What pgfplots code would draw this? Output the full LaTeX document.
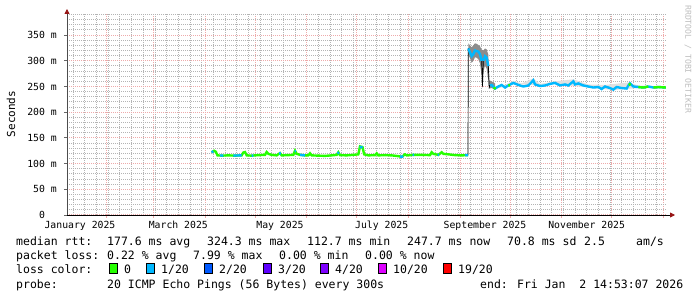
\documentclass[border=0pt]{standalone}
\usepackage{fontspec}
\usepackage{pgfplots}
\pgfplotsset{compat=1.18}
\usetikzlibrary{arrows.meta}
\newfontfamily\mono{DejaVu Sans Mono}
\newcommand\axisfont{\mono\fontsize{9.8}{11}\selectfont}
\newcommand\legfont{\mono\fontsize{11.5}{13}\selectfont}
\definecolor{lossA}{RGB}{38,255,0}
\definecolor{lossB}{RGB}{0,184,255}
\definecolor{lossC}{RGB}{0,89,255}
\definecolor{lossD}{RGB}{94,0,255}
\definecolor{lossE}{RGB}{126,0,255}
\definecolor{lossF}{RGB}{221,0,255}
\definecolor{lossG}{RGB}{255,0,0}
\definecolor{mgrid}{RGB}{238,170,170}
\definecolor{ngrid}{RGB}{180,180,180}
\definecolor{arrowred}{RGB}{150,20,20}
\definecolor{wmark}{RGB}{190,190,190}

\pgfplotstableread{
d v
94 122
95.5 125
96.5 123
97.5 116
100 115.5
104 116
108 115.5
112 116
113 121.5
114 122.5
115 116
118 115.5
122 116.5
126 117
127 122.5
128 119
130 117
133 116
135 120.5
136 116
140 116.5
143 117
144 125
145 119
147 117
150 116
152 116
153 120
154 116
158 115.5
162 115
166 116
169 117
170 122
171 116.5
175 116
179 117
182 118
183 133.5
184.5 132
185.5 118
188 116
192 116.5
193 120
194 116
198 116.5
202 116
206 114.5
208 113
210 118
211 116
215 117
220 117
225 116.5
226 122
227 119
230 117
232 122
233 119
236 118
240 116.5
244 116
247.8 116.5
}\segA

\pgfplotstableread{
d v
248 324
249 316
250 309
251 313
252 320
253 319
254 318
255 313
256 300
256.5 250
257 300
258 309
259 306
260 290
260.5 248
261 252
262 253
264 246
266 250
268 253
270 248
272 252
275 257
278 253
281 250
284 252
287 262
288 254
291 251
294 252
297 255
300 257
303 252
306 254
308 252
311 260
312 254
314 256
317 252
320 250
323 248
326 249
328 245
330 250
333 247
335 244
337 249
340 247
343 246
344 252
345 256
347 250
350 249
353 248
356 250
359 248
362 249
366.5 248
}\segB

\pgfplotstableread{
d v
248 324
249 316
250 309
251 313
252 320
253 319
254 318
255 313
256 300
256.5 nan
257 300
258 309
259 306
260 290
260.5 nan
261 252
262 253
264 246
266 250
268 253
270 248
272 252
275 257
278 253
281 250
284 252
287 262
288 254
291 251
294 252
297 255
300 257
303 252
306 254
308 252
311 260
312 254
314 256
317 252
320 250
323 248
326 249
328 245
330 250
333 247
335 244
337 249
340 247
343 246
344 252
345 256
347 250
350 249
353 248
356 250
359 248
362 249
366.5 248
}\segBblue

\pgfplotstableread{
d v
94 122
95 124
95.1 nan
99 115.8
101 115.6
101.1 nan
107 115.6
112 116
112.1 nan
118 115.5
119 115.6
119.1 nan
134.5 120
135.5 120
135.6 nan
143.7 124
144.5 124
144.6 nan
147 117
150 116
150.1 nan
169.5 120
170.5 121.5
170.6 nan
182.8 132
184.5 132
184.6 nan
207 113.5
209 113.5
209.1 nan
214.5 117
215.5 117
215.6 nan
229.5 117
230.5 117
230.6 nan
246 116.2
247.8 116.5
}\blueA

\pgfplotstableread{
d v
263 247.5
264.5 246
264.6 nan
272 252
273 252.5
273.1 nan
344.2 253
345.5 255
345.6 nan
350 249
353 248
356 250
357 nan
359 248
362 249
366.5 248
}\greenB

\pgfplotstableread{
d v
248 334
249 330
250 326
251 330
252 334
253 333
254 331
255 328
256 322
257 320
258 324
259 322
260 312
260.6 262
262 260
264 256
264 244
262 247
260.6 246
260 262
259 285
258 290
257 280
256.5 248
256 270
255 295
254 303
253 306
252 307
251 300
250 296
249 305
248 312
}\smokeA

\pgfplotstableread{
d v
264 251
270 253
275 261
280 256
287 266
291 255
300 260
311 264
320 254
330 253
344 258
350 252
366.5 250
366.5 247
350 247
335 243
320 248
300 255
287 253
275 254
264 245
}\smokeB

\begin{document}
\begin{tikzpicture}[x=1pt,y=1pt]
\useasboundingbox (0,0) rectangle (697,297);
\begin{axis}[
  at={(67pt,82pt)}, anchor=south west,
  scale only axis, width=600pt, height=202pt,
  xmin=7.2, xmax=367.2, ymin=0, ymax=393,
  axis x line=bottom, axis y line=left,
  x axis line style={draw=black, line width=0.8pt, -{Triangle[length=5pt,width=5pt,color=arrowred]}, shorten >=-8pt},
  y axis line style={draw=black!70, line width=0.8pt, -{Triangle[length=5pt,width=5pt,color=arrowred]}, shorten >=-4pt},
  tick align=outside,
  major tick length=3pt, minor tick length=0.01pt,
  xtick style={draw=mgrid, line width=0.8pt},
  ytick style={draw=black!60, line width=0.8pt},
  xtick={31,59,90,120,151,181,212,243,273,304,334,365},
  xticklabels={,,,,,,,,,,,},
  minor xtick={11,18,...,361},
  extra x ticks={15,74,135,196,258,319},
  extra x tick labels={January 2025,March 2025,May 2025,July 2025,September 2025,November 2025},
  extra x tick style={grid=none, major tick length=0pt},
  ytick={0,50,100,150,200,250,300,350},
  yticklabels={0\hphantom{00},50 m,100 m,150 m,200 m,250 m,300 m,350 m},
  minor ytick={10,20,30,40,60,70,80,90,110,120,130,140,160,170,180,190,210,220,230,240,260,270,280,290,310,320,330,340,360,370,380,390},
  xmajorgrids, ymajorgrids, xminorgrids, yminorgrids,
  major grid style={draw=mgrid, dash pattern=on 1pt off 1pt, line width=1pt},
  minor grid style={draw=ngrid, dash pattern=on 1pt off 1pt, line width=1pt},
  xticklabel style={font=\axisfont, anchor=base, inner sep=0pt, yshift=-13.6pt},
  yticklabel style={font=\axisfont, anchor=east, inner sep=0pt, xshift=-7pt},
  unbounded coords=jump,
]
\addplot[fill=black!45, draw=none] table[x=d,y=v] {\smokeA} -- cycle;
\addplot[fill=black!12, draw=none] table[x=d,y=v] {\smokeB} -- cycle;
\addplot[black, line width=0.7pt] table[x=d,y=v] {\segA};
\addplot[black, line width=0.7pt] coordinates {(247.8,116.5) (248,324)};
\addplot[black, line width=0.7pt] table[x=d,y=v] {\segB};
\addplot[lossA, line width=2.4pt] table[x=d,y=v] {\segA};
\addplot[lossB, line width=2.4pt] table[x=d,y=v] {\blueA};
\addplot[lossB, line width=2.4pt] table[x=d,y=v] {\segBblue};
\addplot[lossA, line width=2.4pt] table[x=d,y=v] {\greenB};
\end{axis}
% y label and watermark
\node[rotate=90, font=\mono\fontsize{11}{12}\selectfont, inner sep=0pt] at (11,183) {Seconds};
\node[rotate=-90, anchor=west, font=\mono\fontsize{8.15}{9}\selectfont, text=wmark, inner sep=0pt] at (688,292) {RRDTOOL / TOBI OETIKER};
% legend text
\begin{scope}[every node/.style={anchor=base west, inner sep=0pt, font=\legfont}]
\node at (16,51.8) {median rtt:};
\node at (107,51.8) {177.6 ms avg};
\node at (207,51.8) {324.3 ms max};
\node at (307,51.8) {112.7 ms min};
\node at (407,51.8) {247.7 ms now};
\node at (507,51.8) {70.8 ms sd};
\node at (584,51.8) {2.5};
\node at (636,51.8) {am/s};
\node at (16,37.8) {packet loss:};
\node at (107,37.8) {0.22 \% avg};
\node at (193,37.8) {7.99 \% max};
\node at (279,37.8) {0.00 \% min};
\node at (365,37.8) {0.00 \% now};
\node at (16,23.8) {loss color:};
\node at (124,23.8) {0};
\node at (161,23.8) {1/20};
\node at (219,23.8) {2/20};
\node at (278,23.8) {3/20};
\node at (335,23.8) {4/20};
\node at (393,23.8) {10/20};
\node at (458,23.8) {19/20};
\node at (16,8.8) {probe:};
\node at (107,8.8) {20 ICMP Echo Pings (56 Bytes) every 300s};
\node at (480,8.8) {end: Fri Jan~~2 14:53:07 2026};
\end{scope}
\begin{scope}[draw=black, line width=0.8pt]
\filldraw[fill=lossA] (109,23.8) rectangle ++(8,9.5);
\filldraw[fill=lossB] (146,23.8) rectangle ++(8,9.5);
\filldraw[fill=lossC] (204,23.8) rectangle ++(8,9.5);
\filldraw[fill=lossD] (263,23.8) rectangle ++(8,9.5);
\filldraw[fill=lossE] (320,23.8) rectangle ++(8,9.5);
\filldraw[fill=lossF] (378,23.8) rectangle ++(8,9.5);
\filldraw[fill=lossG] (443,23.8) rectangle ++(8,9.5);
\end{scope}
\end{tikzpicture}
\end{document}
